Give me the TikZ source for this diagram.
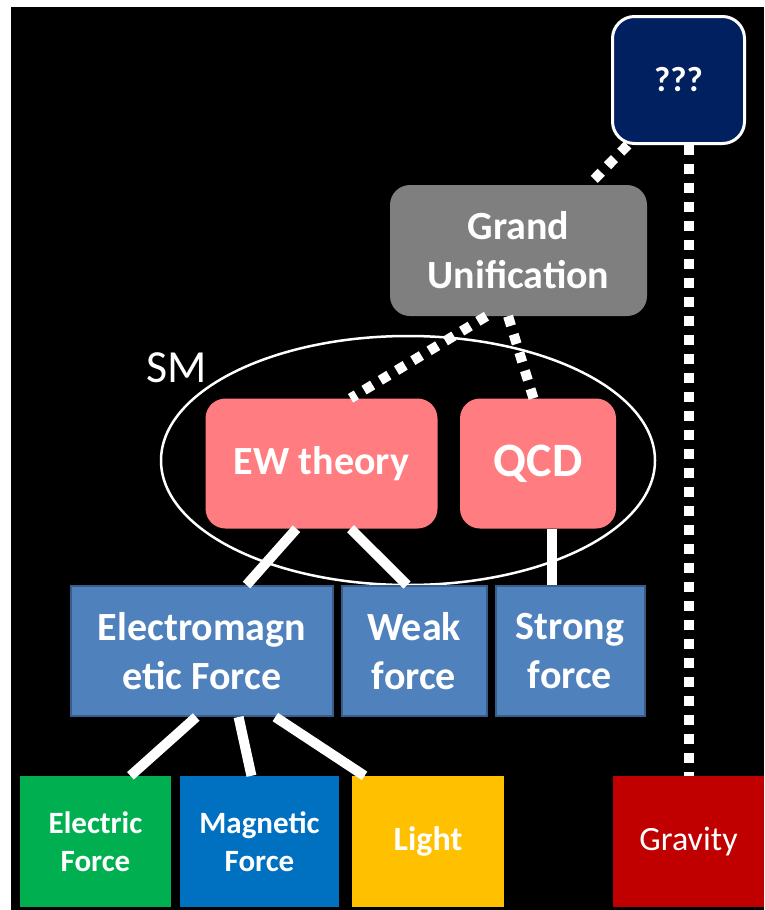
\documentclass[tikz,border=0pt]{standalone}
\usepackage{fontspec}
\setmainfont{Carlito}
\usepackage{xcolor}
\usetikzlibrary{shapes.geometric}

\definecolor{navy}{HTML}{002060}
\definecolor{gugray}{HTML}{7F7F7F}
\definecolor{smpink}{HTML}{FF7C80}
\definecolor{forceblue}{HTML}{4F81BD}
\definecolor{forceedge}{HTML}{385D8A}
\definecolor{elgreen}{HTML}{00B050}
\definecolor{magblue}{HTML}{0070C0}
\definecolor{lightyellow}{HTML}{FFC000}
\definecolor{gravred}{HTML}{C00000}

\begin{document}
\begin{tikzpicture}[x=1pt, y=-1pt,
  every node/.style={text=white, align=center, inner sep=0pt},
  bigfont/.style={font=\fontsize{40}{49}\selectfont\bfseries},
  smallfont/.style={font=\fontsize{31}{38}\selectfont\bfseries},
  theory/.style={fill=#1, rounded corners=20pt, minimum height=130},
  force/.style={fill=forceblue, draw=forceedge, line width=2pt, minimum height=130, bigfont},
  effect/.style={fill=#1, minimum height=131, minimum width=151},
  solidline/.style={white, line width=10pt},
  dotline/.style={white, line width=10pt, dash pattern=on 10pt off 9pt}]

% background
\fill[white] (0,0) rectangle (764,910);
\fill[black] (11,7) rectangle (764,910);
\useasboundingbox (0,0) rectangle (764,910);

% top
\node[theory=navy, draw=white, line width=3pt, rounded corners=22pt,
      minimum width=132, minimum height=127,
      font=\fontsize{35}{40}\selectfont\bfseries] (q) at (678.5, 80) {???};
\node[theory=gugray, minimum width=257, minimum height=131, bigfont] (gu) at (518.5, 250.5) {Grand\\Unification};

% standard model
\node[draw=white, line width=2.5pt, ellipse, minimum width=494, minimum height=249] (sm) at (408, 460.5) {};
\node[font=\fontsize{46}{52}\selectfont] (smlabel) at (177, 367.5) {SM};
\node[theory=smpink, minimum width=232, bigfont] (ew) at (321.5, 463.5) {EW theory};
\node[theory=smpink, minimum width=156, font=\fontsize{48}{56}\selectfont\bfseries] (qcd) at (538, 463.5) {QCD};

% forces
\node[force, minimum width=262] (em) at (202, 651) {Electromagn\\etic Force};
\node[force, minimum width=145] (weak) at (414, 651) {Weak\\force};
\node[force, minimum width=149] (strong) at (570, 651) {Strong\\force};

% bottom row
\node[effect=elgreen, smallfont] (elec) at (95.5, 841.5) {Electric\\Force};
\node[effect=magblue, minimum width=159, smallfont] (magn) at (259.5, 841.5) {Magnetic\\Force};
\node[effect=lightyellow, minimum width=152, font=\fontsize{34}{40}\selectfont\bfseries] (light) at (428, 841.5) {Light};
\node[effect=gravred, font=\fontsize{34}{40}\selectfont] (grav) at (688.5, 841.5) {Gravity};

% dotted links
\draw[dotline] (q.232) -- (gu.43);
\draw[dotline] (grav.north |- q.south) -- (grav.north);
\draw[dotline] (gu.244) -- (ew.66);
\draw[dotline] (gu.261) -- (qcd.94);

% solid links
\draw[solidline] (ew.249) -- (em.56);
\draw[solidline] (ew.294) -- (weak.96);
\draw[solidline] (qcd.-78) -- (qcd.-78 |- strong.north);
\draw[solidline] (em.265) -- (elec.62);
\draw[solidline] (em.299) -- (magn.97);
\draw[solidline] (em.318) -- (light.134);

\end{tikzpicture}
\end{document}
